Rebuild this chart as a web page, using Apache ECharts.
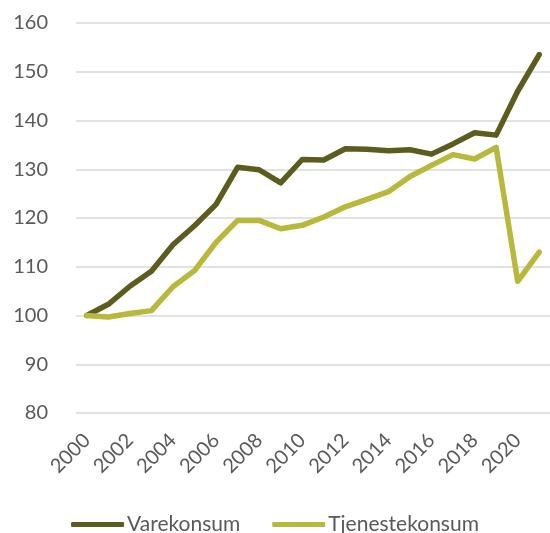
<!DOCTYPE html>
<html>
<head>
<meta charset="utf-8">
<script src="https://cdn.jsdelivr.net/npm/echarts@6/dist/echarts.min.js"></script>
<style>
  html, body { margin: 0; padding: 0; background: #fff; }
  #chart { width: 550px; height: 533px; }
</style>
</head>
<body>
<div id="chart"></div>
<script>
var years = ['2000','2001','2002','2003','2004','2005','2006','2007','2008','2009','2010',
             '2011','2012','2013','2014','2015','2016','2017','2018','2019','2020','2021'];
var varekonsum = [100, 102.3, 106, 109.1, 114.5, 118.4, 122.8, 130.4, 129.9, 127.2, 132,
                  131.9, 134.2, 134.1, 133.8, 134, 133.1, 135.2, 137.5, 137, 146, 153.5];
var tjenestekonsum = [100, 99.7, 100.4, 101, 105.9, 109.2, 115, 119.5, 119.5, 117.8, 118.5,
                      120.2, 122.3, 123.8, 125.4, 128.5, 130.8, 133, 132.1, 134.5, 107, 113];

var myChart = echarts.init(document.getElementById('chart'));
var textColor = '#595959';
var font = 'Lato, "Open Sans", sans-serif';

var option = {
    animation: false,
    grid: { left: 76, right: 0, top: 23, bottom: 120 },
    legend: {
        top: 509,
        left: 'center',
        itemWidth: 53,
        itemHeight: 5,
        itemGap: 32,
        icon: 'roundRect',
        textStyle: { color: textColor, fontSize: 21, fontFamily: font, padding: [0, 0, 0, -2] },
        data: ['Varekonsum', 'Tjenestekonsum']
    },
    xAxis: {
        type: 'category',
        data: years,
        boundaryGap: true,
        axisLine: { show: false },
        axisTick: { show: false },
        axisLabel: {
            interval: 1,
            rotate: 45,
            color: textColor,
            fontSize: 20,
            fontFamily: font,
            margin: 24
        }
    },
    yAxis: {
        type: 'value',
        min: 80,
        max: 160,
        interval: 10,
        axisLine: { show: false },
        axisTick: { show: false },
        axisLabel: { color: textColor, fontSize: 20, fontFamily: font, margin: 28 },
        splitLine: { lineStyle: { color: '#d9d9d9', width: 1.5 } }
    },
    series: [
        {
            name: 'Varekonsum',
            type: 'line',
            data: varekonsum,
            showSymbol: false,
            itemStyle: { color: '#5c5c1f' },
            lineStyle: { color: '#5c5c1f', width: 5.5, cap: 'round', join: 'round' }
        },
        {
            name: 'Tjenestekonsum',
            type: 'line',
            data: tjenestekonsum,
            showSymbol: false,
            itemStyle: { color: '#b8b83c' },
            lineStyle: { color: '#b8b83c', width: 5.5, cap: 'round', join: 'round' }
        }
    ]
};

myChart.setOption(option);
</script>
</body>
</html>
